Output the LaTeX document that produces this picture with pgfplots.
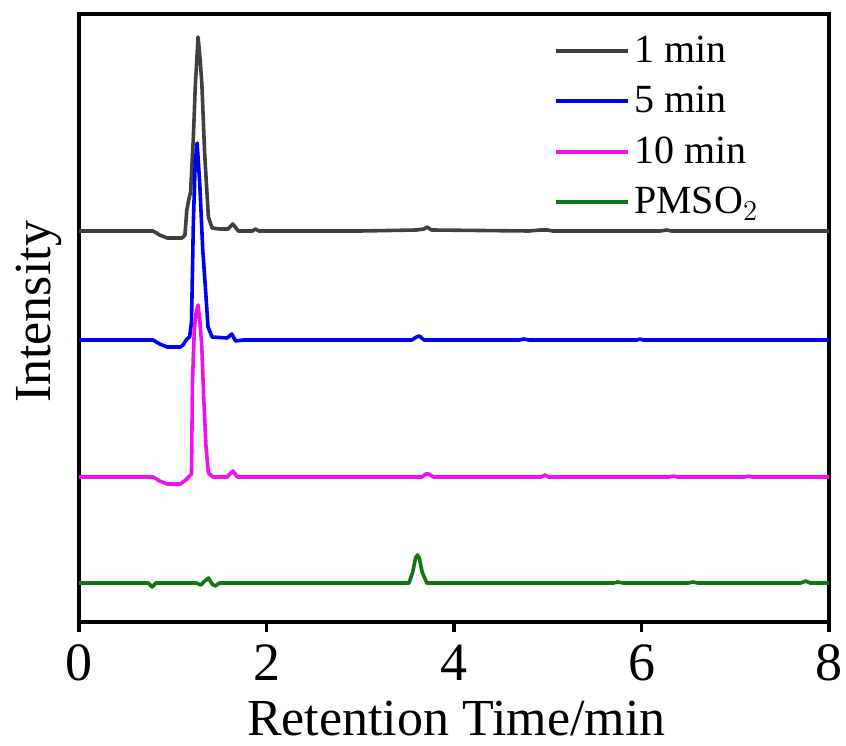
\documentclass[border=0pt]{standalone}
\usepackage{pgfplots}
\pgfplotsset{compat=1.18}
\usepackage{pgfplotstable}
\usepackage{fontspec}
\setmainfont{Liberation Serif}

\definecolor{cgray}{RGB}{64,64,64}
\definecolor{cblue}{RGB}{0,0,245}
\definecolor{cmag}{RGB}{238,16,238}
\definecolor{cgreen}{RGB}{16,120,16}

% y values are offsets in picture units (baselines stacked by hand)
\pgfplotstableread{
t y
0 391
0.79 391
0.86 387
0.94 384
1.10 384
1.13 387
1.15 412
1.17 422
1.19 430
1.22 485
1.24 535
1.27 585
1.29 565
1.31 539
1.34 469
1.38 405
1.42 394
1.50 393
1.59 393
1.64 398
1.70 391
1.85 391
1.88 393
1.92 391
3.00 391
3.60 392
3.68 393
3.71 395
3.76 392
4.80 391
4.92 392
5.00 392
5.05 391
6.20 391
6.27 392
6.32 391
8.00 391
}\onemin

\pgfplotstableread{
t y
0 282
0.79 282
0.86 278
0.94 275
1.08 275
1.11 277
1.15 283
1.18 285
1.20 300
1.22 400
1.24 460
1.26 479
1.29 435
1.32 372
1.33 359
1.355 325
1.376 295
1.42 285
1.58 284
1.63 288
1.67 281
1.75 282
3.55 282
3.60 285
3.63 286
3.68 282
4.70 282
4.74 283
4.80 282
5.95 282
5.98 283
6.02 282
8 282
}\fivemin

\pgfplotstableread{
t y
0 145
0.79 145
0.86 141
0.94 138
1.08 138
1.11 140
1.15 143
1.18 146
1.20 148
1.21 239
1.23 292
1.25 310
1.27 317
1.29 300
1.31 275
1.33 225
1.355 175
1.38 149
1.43 145
1.58 145
1.64 151
1.69 145
3.66 145
3.70 148
3.73 148
3.78 145
4.93 145
4.97 147
5.01 145
6.30 145
6.34 146
6.38 145
7.10 145
7.14 146
7.18 145
8 145
}\tenmin

\pgfplotstableread{
t y
0 39
0.74 39
0.78 35
0.82 39
1.25 39
1.30 37
1.33 40
1.38 44
1.42 38
1.45 36
1.50 39
3.52 39
3.56 50
3.59 64
3.61 67
3.63 64
3.66 50
3.71 39
5.70 39
5.75 40
5.80 39
6.50 39
6.55 40
6.60 39
7.70 39
7.75 41
7.80 39
8 39
}\pmso

\begin{document}
\begin{tikzpicture}
\begin{axis}[
	scale only axis,
	width=375pt, height=304pt,
	xmin=0, xmax=8, ymin=0, ymax=608,
	axis line style={line width=1.8pt},
	xtick={0,2,4,6,8},
	ytick=\empty,
	xtick pos=bottom,
	tick align=outside,
	major tick length=5pt,
	tick style={line width=1.6pt, black},
	/pgf/number format/assume math mode=true,
	tick label style={font=\fontsize{27}{32}\selectfont},
	xticklabel style={yshift=-3pt},
	xlabel={Retention Time/min},
	ylabel={Intensity},
	label style={font=\fontsize{26}{31}\selectfont},
	xlabel style={at={(axis description cs:0.503,-0.186)}, anchor=base},
	ylabel style={at={(axis description cs:-0.053,0.51)}, anchor=center},
	legend style={at={(0.625,0.978)}, anchor=north west, draw=none, fill=none,
		font=\fontsize{20}{24}\selectfont, row sep=6.5pt,
		/tikz/every even column/.append style={column sep=0pt}},
	legend cell align=left,
	legend image code/.code={\draw[#1, line width=2pt] (0pt,0pt) -- (36pt,0pt);},
	every axis plot/.append style={line width=1.8pt, line join=round},
]
\addplot[cgray] table[x=t, y=y] {\onemin};
\addlegendentry{1 min}
\addplot[cblue] table[x=t, y=y] {\fivemin};
\addlegendentry{5 min}
\addplot[cmag] table[x=t, y=y] {\tenmin};
\addlegendentry{10 min}
\addplot[cgreen] table[x=t, y=y] {\pmso};
\addlegendentry{PMSO$_2$}
\end{axis}
\pgfresetboundingbox
\path[use as bounding box] ([xshift=-39.5pt,yshift=-61.5pt]current axis.south west) rectangle ([xshift=8.5pt,yshift=7pt]current axis.north east);
\end{tikzpicture}
\end{document}
